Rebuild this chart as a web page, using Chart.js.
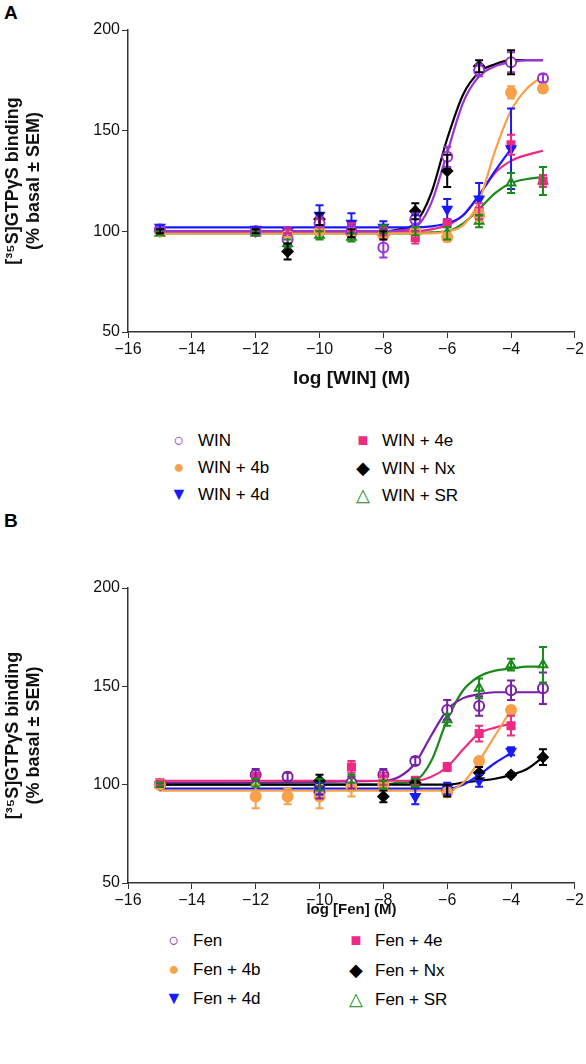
<!DOCTYPE html>
<html>
<head>
<script src="https://cdn.jsdelivr.net/npm/chart.js"></script>
<style>
  body { margin: 0; background: #fff; font-family: "Liberation Sans", Arial, sans-serif; }
  .wrap { position: absolute; left: 0; width: 586px; }
  .tag { position: absolute; left: 4px; font-weight: bold; font-size: 19px; }
  .legend { position: absolute; left: 0; width: 586px; font-size: 17px; }
  .item { position: absolute; white-space: nowrap; }
  .mk { display: inline-block; width: 22px; text-align: center; margin-right: 8px; font-size: 18px; }
</style>
</head>
<body>
<div class="tag" style="top:2px">A</div>
<div class="wrap" style="top:0;height:420px"><canvas id="chartA"></canvas></div>
<div class="legend" id="legA" style="top:430px"></div>
<div class="tag" style="top:510px">B</div>
<div class="wrap" style="top:540px;height:385px"><canvas id="chartB"></canvas></div>
<div class="legend" id="legB" style="top:930px"></div>
<script>
var doses = [-15, -12, -11, -10, -9, -8, -7, -6, -5, -4, -3];

// panel A - WIN
var winA = [101, 100, 96, 104, 100, 92, 106, 137, 180, 184, 176];
var winAErr = [1, 1, 2, 3, 3, 5, 3, 5, 3, 5, 2];
var w4bA = [100, 100, 98, 100, 99, 98, 100, 97, 108, 169, 171];
var w4bAErr = [1, 1, 1, 1, 1, 1, 1, 2, 3, 3, 2];
var w4dA = [102, 101, 100, 108, 104, 102, 104, 111, 116, 141, null];
var w4dAErr = [1, 1, 1, 5, 5, 3, 4, 5, 8, 20, 0];
var w4eA = [100, 100, 100, 103, 102, 100, 97, 104, 110, 143, 125];
var w4eAErr = [1, 1, 1, 3, 2, 2, 3, 2, 4, 5, 3];
var wNxA = [100, 100, 90, 106, 99, 98, 110, 130, 182, 184, null];
var wNxAErr = [1, 1, 4, 3, 2, 2, 4, 8, 3, 6, 0];
var wSrA = [99, 99, 94, 98, 97, 101, 100, 99, 105, 124, 125];
var wSrAErr = [1, 1, 2, 2, 2, 2, 2, 3, 3, 5, 7];

// fitted curves, read at these log doses
var curveX = [-15, -8, -7.5, -7, -6.5, -6, -5.5, -5, -4.5, -4, -3.5, -3];
var winFitA = [100, 100, 100.5, 102, 114, 139, 164, 177, 182, 184, 185, 185];
var nxFitA = [100, 100, 101, 104, 119, 146, 168, 179, 183, 185, 185, 185];
var b4FitA = [99, 99, 99, 99, 99, 100, 103, 115, 140, 160, 171, 177];
var d4FitA = [102, 102, 102, 102, 102.5, 104, 108, 118, 130, 141, null, null];
var e4FitA = [100, 100, 100, 100, 101, 103, 108, 118, 129, 135, 138, 140];
var srFitA = [99, 99, 99, 99, 99.5, 100, 104, 111, 119, 124, 126, 127];

// panel B - Fen
var fenB = [100, 105, 104, 96, 101, 105, 112, 138, 140, 148, 149];
var fenBErr = [1, 3, 2, 3, 3, 3, 2, 5, 5, 5, 8];
var f4bB = [100, 94, 94, 94, 99, 100, null, 96, 112, 138, null];
var f4bBErr = [1, 6, 4, 6, 5, 3, 0, 2, 2, 2, 0];
var f4dB = [100, null, null, 98, null, null, 94, 98, 102, 117, null];
var f4dBErr = [1, 0, 0, 3, 0, 0, 4, 3, 3, 2, 0];
var f4eB = [101, 104, null, null, 109, 103, 102, 109, 126, 130, null];
var f4eBErr = [1, 2, 0, 0, 3, 3, 2, 2, 4, 5, 0];
var fNxB = [100, null, null, 102, null, 94, 101, 97, 106, 105, 114];
var fNxBErr = [1, 0, 0, 3, 0, 3, 2, 3, 3, 1, 4];
var fSrB = [100, 101, null, 100, 103, 100, 101, 133, 149, 161, 161];
var fSrBErr = [1, 2, 0, 3, 2, 2, 2, 3, 5, 3, 9];

var fenFitB = [101, 102, 104, 111, 125, 138, 144, 146, 147, 147, 147, 147];
var srFitB = [100, 100, 101, 102, 112, 133, 148, 155, 158, 159, 160, 160];
var e4FitB = [102, 102, 102, 102, 104, 109, 118, 126, 129, 131, null, null];
var b4FitB = [97, 97, 97, 97, 97, 97, 101, 112, 125, 138, null, null];
var d4FitB = [98, 98, 98, 98, 98, 98, 100, 105, 111, 116, null, null];
var nxFitB = [100, 100, 100, 100, 100, 100, 101, 102, 103, 105, 108, 114];

var yTicks = [50, 100, 150, 200];
var xTicks = [-16, -14, -12, -10, -8, -6, -4, -2];

var FONT = "'Liberation Sans', Arial, sans-serif";

function pts(xs, ys, errs) {
  var out = [];
  xs.forEach(function (x, i) {
    if (ys[i] !== null) out.push({ x: x, y: ys[i], e: errs ? errs[i] : 0 });
  });
  return out;
}

var errorBars = {
  id: "errorBars",
  afterDatasetsDraw: function (chart) {
    var ctx = chart.ctx, ys = chart.scales.y;
    chart.data.datasets.forEach(function (ds, di) {
      if (!ds.errBars) return;
      var meta = chart.getDatasetMeta(di);
      ctx.save();
      ctx.strokeStyle = ds.borderColor;
      ctx.lineWidth = 2;
      meta.data.forEach(function (el, i) {
        var d = ds.data[i];
        if (!d.e) return;
        var t = ys.getPixelForValue(d.y + d.e), b = ys.getPixelForValue(d.y - d.e);
        ctx.beginPath();
        ctx.moveTo(el.x, t); ctx.lineTo(el.x, b);
        ctx.moveTo(el.x - 4, t); ctx.lineTo(el.x + 4, t);
        ctx.moveTo(el.x - 4, b); ctx.lineTo(el.x + 4, b);
        ctx.stroke();
      });
      ctx.restore();
    });
  }
};

function series(color, style, filled, ys, errs, fitY, rot) {
  return [
    {
      data: pts(curveX, fitY), borderColor: color, borderWidth: 2.2,
      pointRadius: 0, showLine: true, cubicInterpolationMode: "monotone", order: 2
    },
    {
      data: pts(doses, ys, errs), errBars: true, borderColor: color,
      backgroundColor: filled ? color : "#fff", pointStyle: style,
      pointRotation: rot || 0, pointRadius: 5, pointBorderWidth: 2,
      showLine: false, order: 1
    }
  ];
}

function makeChart(id, sets, xTitle, xTitleSize, padTop, xH, padBottom) {
  new Chart(document.getElementById(id), {
    type: "scatter",
    data: { datasets: [].concat.apply([], sets) },
    plugins: [errorBars],
    options: {
      responsive: true, maintainAspectRatio: false, animation: false,
      layout: { padding: { top: padTop, right: 9, left: 0, bottom: padBottom } },
      plugins: { legend: { display: false }, tooltip: { enabled: false } },
      scales: {
        x: {
          type: "linear", min: -16, max: -2,
          afterBuildTicks: function (s) { s.ticks = xTicks.map(function (v) { return { value: v }; }); },
          afterFit: function (s) { s.height = xH; },
          grid: { drawOnChartArea: false, color: "#333", tickLength: 6 },
          border: { color: "#333", width: 1.5 },
          ticks: { color: "#111", font: { family: FONT, size: 16 }, padding: 2,
                   callback: function (v) { return v < 0 ? "\u2212" + Math.abs(v) : v; } },
          title: { display: true, text: xTitle, color: "#111",
                   font: { family: FONT, size: xTitleSize, weight: "bold" }, padding: { top: 4 } }
        },
        y: {
          min: 50, max: 200,
          afterBuildTicks: function (s) { s.ticks = yTicks.map(function (v) { return { value: v }; }); },
          afterFit: function (s) { s.width = 128; },
          grid: { drawOnChartArea: false, color: "#333", tickLength: 6 },
          border: { color: "#333", width: 1.5 },
          ticks: { color: "#111", font: { family: FONT, size: 16 }, padding: 2 },
          title: { display: true, text: ["[\u00b3\u2075S]GTP\u03b3S binding", "(% basal \u00b1 SEM)"],
                   color: "#111", font: { family: FONT, size: 18, weight: "bold" }, padding: 2 }
        }
      }
    }
  });
}

makeChart("chartA", [
  series("#9b33d6", "circle", false, winA, winAErr, winFitA),
  series("#f8a04a", "circle", true, w4bA, w4bAErr, b4FitA),
  series("#1a1aff", "triangle", true, w4dA, w4dAErr, d4FitA, 180),
  series("#ee2a84", "rect", true, w4eA, w4eAErr, e4FitA),
  series("#1a8a1a", "triangle", false, wSrA, wSrAErr, srFitA),
  series("#000000", "rectRot", true, wNxA, wNxAErr, nxFitA)
], "log [WIN] (M)", 19, 30, 62, 26);

makeChart("chartB", [
  series("#f8a04a", "circle", true, f4bB, f4bBErr, b4FitB),
  series("#1a1aff", "triangle", true, f4dB, f4dBErr, d4FitB, 180),
  series("#000000", "rectRot", true, fNxB, fNxBErr, nxFitB),
  series("#ee2a84", "rect", true, f4eB, f4eBErr, e4FitB),
  series("#7a1fa8", "circle", false, fenB, fenBErr, fenFitB),
  series("#1a8a1a", "triangle", false, fSrB, fSrBErr, srFitB)
], "log [Fen] (M)", 15, 48, 40, 2);

// legends
function legend(id, items, rowH, col1, col2) {
  var el = document.getElementById(id);
  items.forEach(function (it, i) {
    var d = document.createElement("div");
    d.className = "item";
    d.style.top = (Math.floor(i / 2) * rowH) + "px";
    d.style.left = (i % 2 ? col2 : col1) + "px";
    d.innerHTML = '<span class="mk" style="color:' + it[1] + '">' + it[2] + "</span>" + it[0];
    el.appendChild(d);
  });
}
legend("legA", [
  ["WIN", "#9b33d6", "\u25cb"], ["WIN + 4e", "#ee2a84", "\u25a0"],
  ["WIN + 4b", "#f8a04a", "\u25cf"], ["WIN + Nx", "#000", "\u25c6"],
  ["WIN + 4d", "#1a1aff", "\u25bc"], ["WIN + SR", "#1a8a1a", "\u25b3"]
], 27, 168, 352);
legend("legB", [
  ["Fen", "#7a1fa8", "\u25cb"], ["Fen + 4e", "#ee2a84", "\u25a0"],
  ["Fen + 4b", "#f8a04a", "\u25cf"], ["Fen + Nx", "#000", "\u25c6"],
  ["Fen + 4d", "#1a1aff", "\u25bc"], ["Fen + SR", "#1a8a1a", "\u25b3"]
], 29, 163, 345);
</script>
</body>
</html>
